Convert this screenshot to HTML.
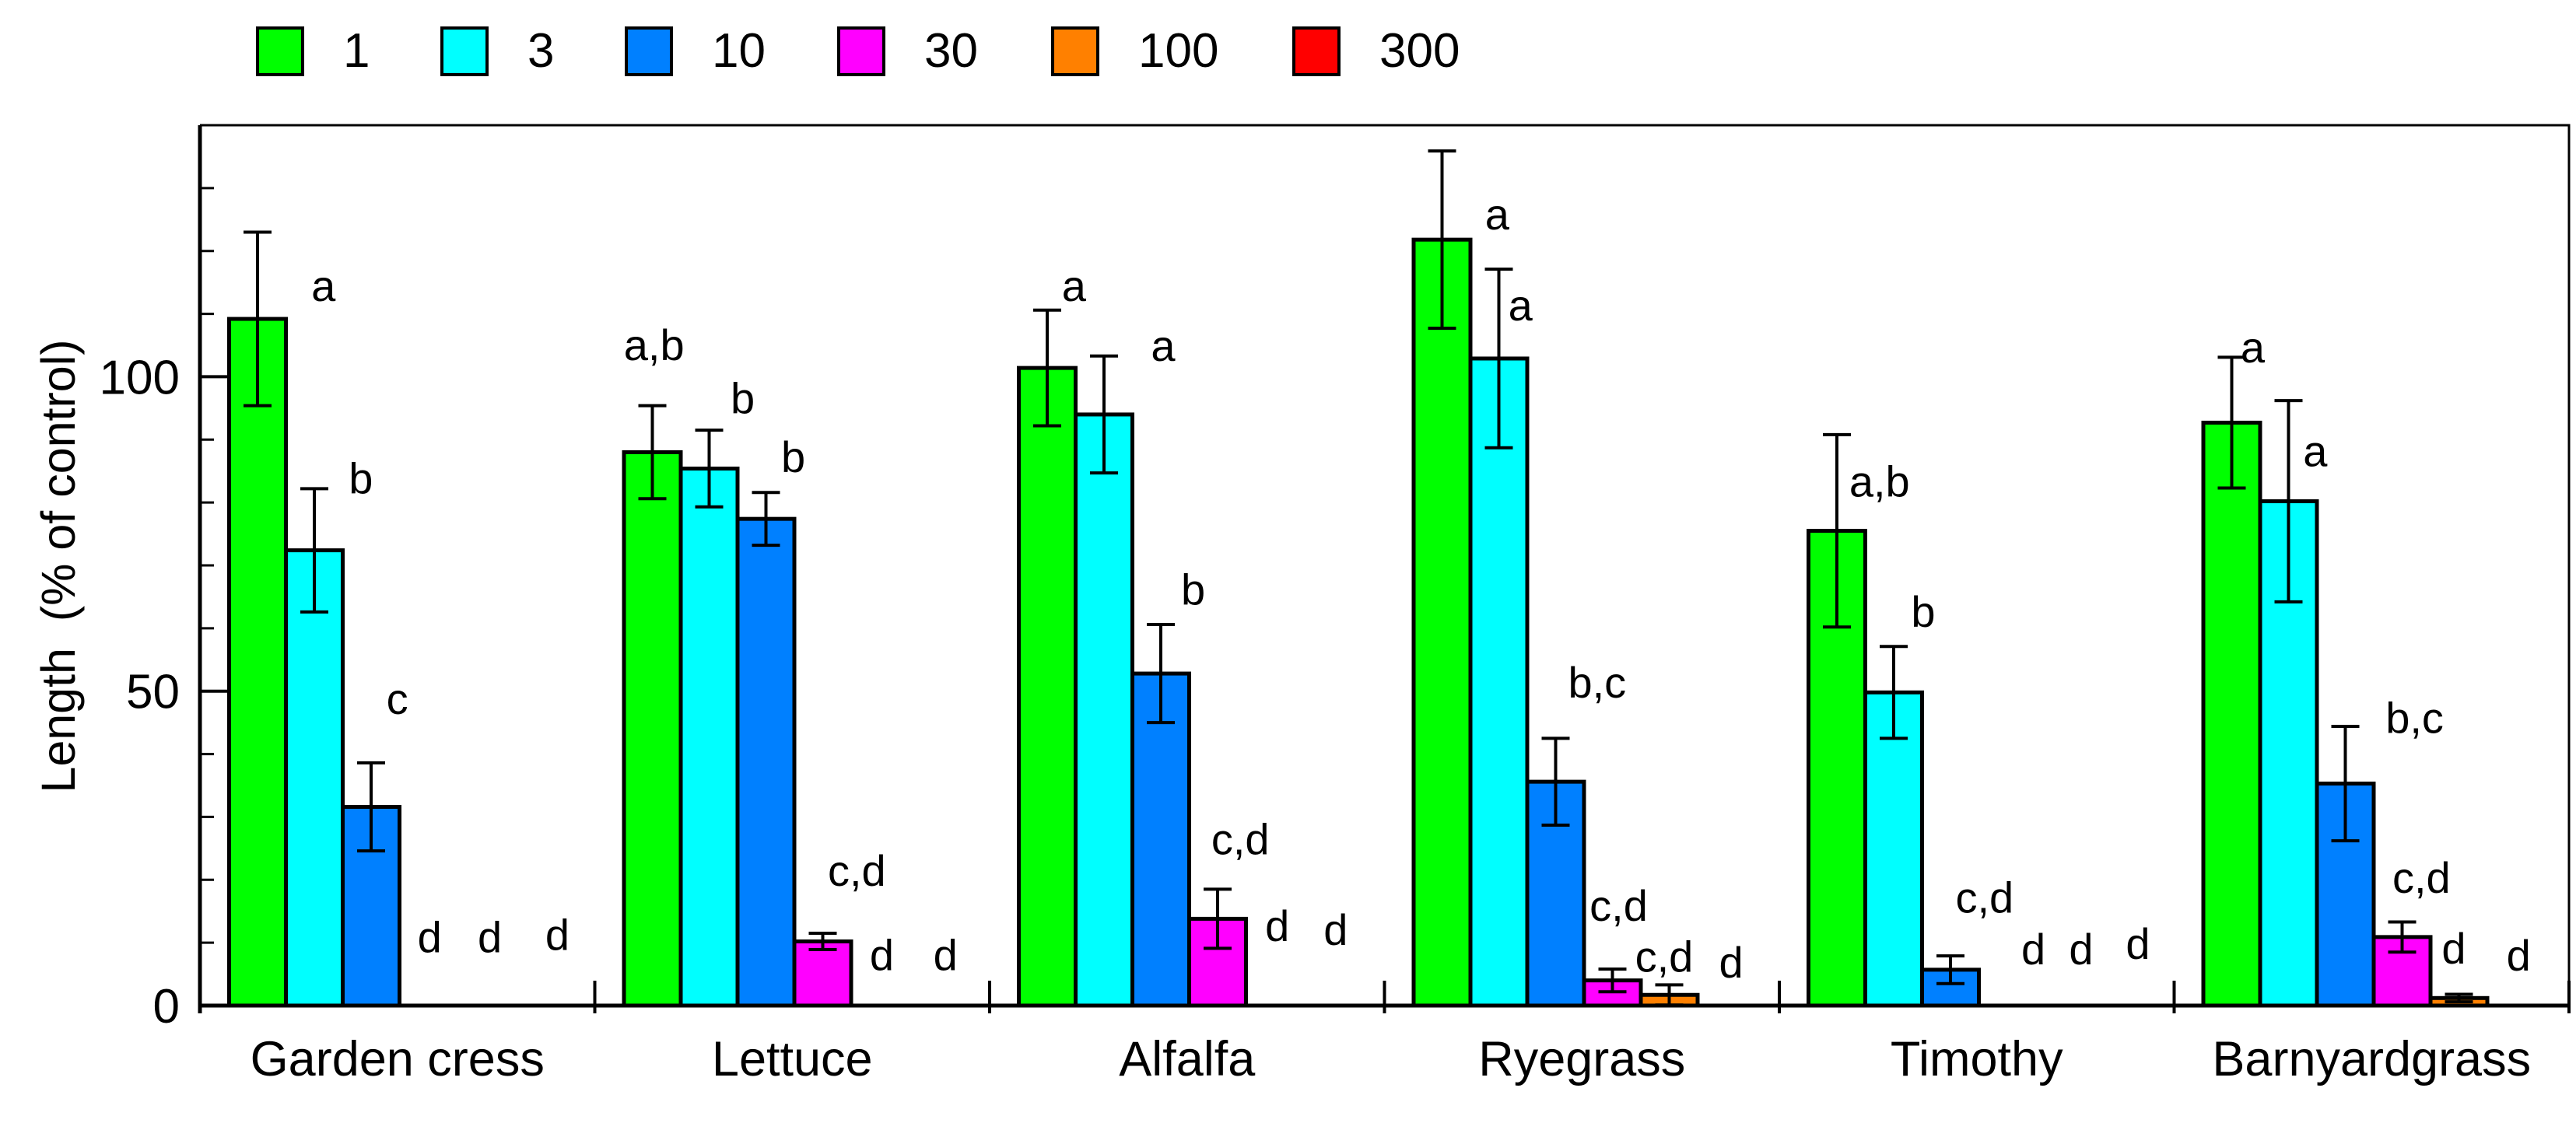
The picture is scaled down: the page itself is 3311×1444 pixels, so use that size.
<!DOCTYPE html>
<html><head><meta charset="utf-8"><style>
html,body{margin:0;padding:0;background:#fff;}
svg{display:block;font-family:"Liberation Sans",Arial,sans-serif;}
</style></head><body>
<svg id="chart" width="3311" height="1444" viewBox="0 0 3311 1444" xmlns="http://www.w3.org/2000/svg"></svg>
<script>
const categories = ["Garden cress","Lettuce","Alfalfa","Ryegrass","Timothy","Barnyardgrass"];
const seriesNames = ["1","3","10","30","100","300"];
const seriesColors = ["#00ff00","#00ffff","#0080ff","#ff00ff","#ff8000","#ff0000"];
const means = [
  [109.2,72.4,31.6,0,0,0],
  [88,85.4,77.4,10.2,0,0],
  [101.4,94,52.8,13.8,0,0],
  [121.8,102.9,35.6,4,1.7,0],
  [75.5,49.8,5.7,0,0,0],
  [92.7,80.2,35.3,10.9,1.2,0]
];
const errors = [
  [13.8,9.8,7,0,0,0],
  [7.4,6.1,4.2,1.3,0,0],
  [9.2,9.3,7.8,4.7,0,0],
  [14.1,14.2,6.9,1.8,1.6,0],
  [15.3,7.3,2.2,0,0,0],
  [10.4,16,9.1,2.4,0.6,0]
];
// letter labels: [group, position in bar widths, y value, text]
const letters = [
  [0,1.66,114.4,"a"],[0,2.32,83.8,"b"],[0,2.96,48.7,"c"],[0,3.53,10.8,"d"],[0,4.59,10.8,"d"],[0,5.78,11.2,"d"],
  [1,0.53,105,"a,b"],[1,2.09,96.5,"b"],[1,2.98,87.2,"b"],[1,4.1,21.4,"c,d"],[1,4.54,8,"d"],[1,5.66,8,"d"],
  [2,0.97,114.4,"a"],[2,2.54,104.9,"a"],[2,3.07,66.1,"b"],[2,3.9,26.4,"c,d"],[2,4.55,12.6,"d"],[2,5.58,12,"d"],
  [3,1.47,125.8,"a"],[3,1.88,111.3,"a"],[3,3.23,51.3,"b,c"],[3,3.61,15.8,"c,d"],[3,4.41,7.7,"c,d"],[3,5.59,6.8,"d"],
  [4,1.25,83.3,"a,b"],[4,2.02,62.6,"b"],[4,3.1,17.1,"c,d"],[4,3.96,8.9,"d"],[4,4.8,8.9,"d"],[4,5.8,9.8,"d"],
  [5,0.87,104.6,"a"],[5,1.97,88.1,"a"],[5,3.72,45.7,"b,c"],[5,3.84,20.3,"c,d"],[5,4.41,9,"d"],[5,5.55,7.9,"d"]
];
const yTicksMajor = [0,50,100];
const yTicksMinor = [10,20,30,40,60,70,80,90,110,120,130];
const yMax = 140;

const NS="http://www.w3.org/2000/svg";
const svg=document.getElementById("chart");
const X0=257, X1=3302, Y0=1293, YT=161;
const groupW=(X1-X0)/categories.length, barW=73, groupPad=37.5;
function y(v){return Y0-(v/yMax)*(Y0-YT);}
function gx(g){return X0+g*groupW+groupPad;}
function mk(tag,attrs,parent){const e=document.createElementNS(NS,tag);for(const k in attrs)e.setAttribute(k,attrs[k]);(parent||svg).appendChild(e);return e;}

// legend
const legend=mk("g",{});


const legBoxX=[331,568,805,1078,1353,1663];
seriesNames.forEach((n,i)=>{
  const r=mk("rect",{x:legBoxX[i],y:36,width:58,height:60,fill:seriesColors[i],stroke:"#000","stroke-width":4},legend);
  
  
  const t=mk("text",{x:legBoxX[i]+110,y:86,"font-size":62,fill:"#000"},legend);
  t.textContent=n;
  
  
});

// frame
const frame=mk("path",{d:`M${X0},${YT} H${X1} V${Y0}`,fill:"none",stroke:"#000","stroke-width":3});



// bars
categories.forEach((c,g)=>{
  means[g].forEach((v,i)=>{
    if(v<=0) return;
    const bx=gx(g)+i*barW;
    const r=mk("rect",{x:bx,y:y(v),width:barW,height:Y0-y(v),fill:seriesColors[i],stroke:"#000","stroke-width":5});
    
    
  });
});
// error bars
categories.forEach((c,g)=>{
  errors[g].forEach((e,i)=>{
    if(e<=0) return;
    const cx=gx(g)+i*barW+barW/2, v=means[g][i];
    const p=mk("path",{d:`M${cx},${y(v+e)} V${y(Math.max(0,v-e))} M${cx-18},${y(v+e)} H${cx+18} M${cx-18},${y(Math.max(0,v-e))} H${cx+18}`,stroke:"#000","stroke-width":4,fill:"none"});
    
    
  });
});

// axes
const yAxis=mk("line",{x1:X0,y1:YT,x2:X0,y2:Y0+10,stroke:"#000","stroke-width":5});


const xAxis=mk("line",{x1:X0,y1:Y0,x2:X1,y2:Y0,stroke:"#000","stroke-width":5});


yTicksMinor.forEach(v=>{
  const t=mk("line",{x1:X0,y1:y(v),x2:X0+18,y2:y(v),stroke:"#000","stroke-width":3});
  
  
});
yTicksMajor.forEach(v=>{
  const t=mk("line",{x1:X0,y1:y(v),x2:X0+40,y2:y(v),stroke:"#000","stroke-width":4});
  
  
  const l=mk("text",{x:231,y:y(v)+22,"text-anchor":"end","font-size":62,fill:"#000"});
  l.textContent=String(v);
  
  
});
for(let g=1;g<=categories.length;g++){
  const sx=X0+g*groupW;
  const t=mk("line",{x1:sx,y1:Y0-32,x2:sx,y2:Y0+10,stroke:"#000","stroke-width":4});
  
  
}
categories.forEach((c,g)=>{
  const t=mk("text",{x:X0+(g+0.5)*groupW,y:1383,"text-anchor":"middle","font-size":63,fill:"#000"});
  t.textContent=c;
  
  
});
const yt=mk("text",{x:0,y:0,"text-anchor":"middle","font-size":61,fill:"#000",transform:"translate(96,728) rotate(-90)",style:"white-space:pre"});
yt.textContent="Length  (% of control)";



// letters
letters.forEach(L=>{
  const t=mk("text",{x:gx(L[0])+L[1]*barW,y:y(L[2])+19,"text-anchor":"middle","font-size":56,fill:"#000"});
  t.textContent=L[3];
  
  
});
</script>
</body></html>
